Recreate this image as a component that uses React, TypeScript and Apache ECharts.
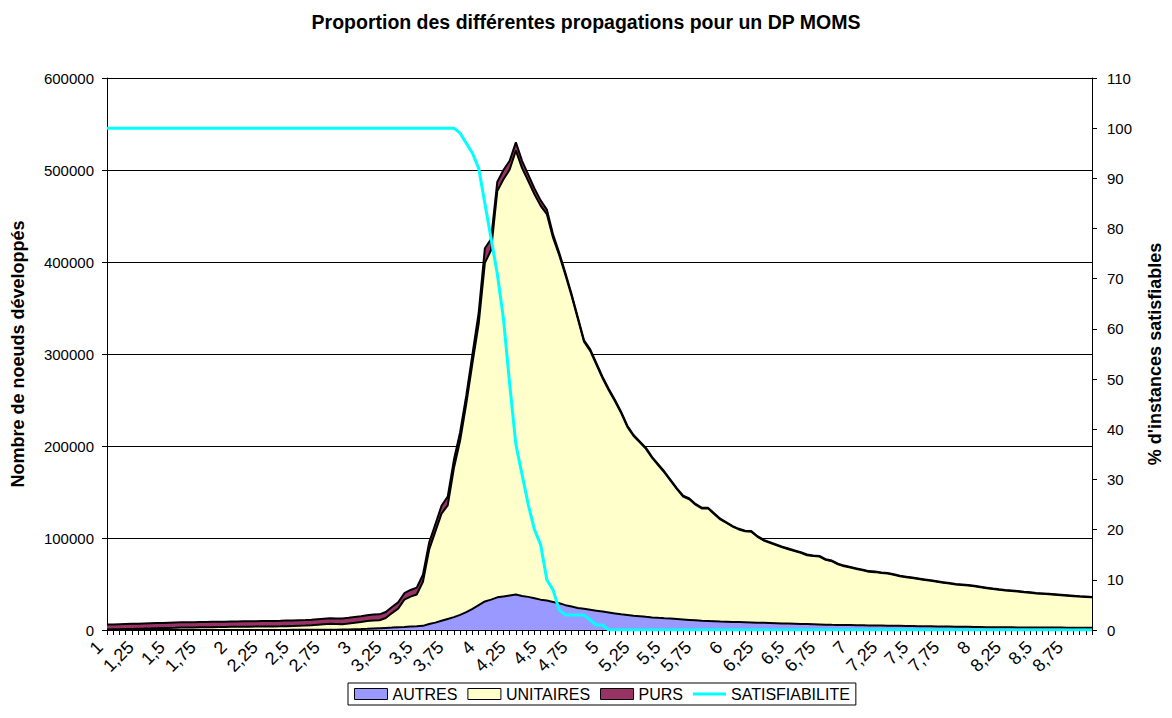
import React, { useEffect, useRef } from "react";
import * as echarts from "echarts";

const CATEGORIES: number[] = [
  1, 1.05, 1.1, 1.15, 1.2, 1.25, 1.3, 1.35, 1.4, 1.45, 1.5, 1.55, 1.6, 1.65, 1.7, 1.75, 1.8, 1.85, 1.9, 1.95,
  2, 2.05, 2.1, 2.15, 2.2, 2.25, 2.3, 2.35, 2.4, 2.45, 2.5, 2.55, 2.6, 2.65, 2.7, 2.75, 2.8, 2.85, 2.9, 2.95,
  3, 3.05, 3.1, 3.15, 3.2, 3.25, 3.3, 3.35, 3.4, 3.45, 3.5, 3.55, 3.6, 3.65, 3.7, 3.75, 3.8, 3.85, 3.9, 3.95,
  4, 4.05, 4.1, 4.15, 4.2, 4.25, 4.3, 4.35, 4.4, 4.45, 4.5, 4.55, 4.6, 4.65, 4.7, 4.75, 4.8, 4.85, 4.9, 4.95,
  5, 5.05, 5.1, 5.15, 5.2, 5.25, 5.3, 5.35, 5.4, 5.45, 5.5, 5.55, 5.6, 5.65, 5.7, 5.75, 5.8, 5.85, 5.9, 5.95,
  6, 6.05, 6.1, 6.15, 6.2, 6.25, 6.3, 6.35, 6.4, 6.45, 6.5, 6.55, 6.6, 6.65, 6.7, 6.75, 6.8, 6.85, 6.9, 6.95,
  7, 7.05, 7.1, 7.15, 7.2, 7.25, 7.3, 7.35, 7.4, 7.45, 7.5, 7.55, 7.6, 7.65, 7.7, 7.75, 7.8, 7.85, 7.9, 7.95,
  8, 8.05, 8.1, 8.15, 8.2, 8.25, 8.3, 8.35, 8.4, 8.45, 8.5, 8.55, 8.6, 8.65, 8.7, 8.75, 8.8, 8.85, 8.9, 8.95,
];

const AUTRES: number[] = [
  0, 0, 0, 0, 0, 0, 0, 0, 0, 0,
  0, 0, 0, 0, 0, 0, 0, 0, 0, 0,
  0, 0, 0, 0, 0, 100, 100, 100, 100, 100,
  200, 200, 200, 300, 300, 300, 400, 400, 500, 600,
  800, 1000, 1300, 1700, 2000, 2300, 2600, 3000, 3300, 3700,
  4000, 4500, 6500, 8000, 10000, 12000, 14000, 16500, 19500, 23000,
  27000, 31000, 33000, 35500, 36500, 37500, 38500, 37000, 36000, 34500,
  33000, 32000, 30500, 29000, 27000, 25500, 24000, 23000, 22000, 21000,
  20000, 19000, 18000, 17000, 16300, 15600, 15000, 14300, 13700, 13200,
  12800, 12500, 12000, 11500, 11000, 10500, 10000, 9800, 9500, 9200,
  9000, 8800, 8600, 8400, 8200, 8000, 7800, 7600, 7400, 7200,
  7000, 6800, 6600, 6400, 6200, 6000, 5800, 5600, 5500, 5400,
  5300, 5200, 5100, 5000, 4900, 4800, 4700, 4600, 4500, 4400,
  4300, 4200, 4100, 4000, 3900, 3800, 3700, 3600, 3500, 3400,
  3300, 3200, 3100, 3000, 3000, 2900, 2900, 2800, 2800, 2700,
  2700, 2700, 2600, 2600, 2600, 2500, 2500, 2500, 2500, 2500,
];

const UNITAIRES: number[] = [
  600, 700, 800, 1000, 1200, 1400, 1500, 1700, 1900, 2100,
  2300, 2400, 2600, 2700, 2800, 2900, 3000, 3100, 3200, 3300,
  3400, 3500, 3500, 3600, 3700, 3700, 3800, 3800, 3900, 4100,
  4200, 4400, 4600, 4800, 5400, 5900, 6300, 6100, 5800, 6500,
  7200, 7700, 8400, 8700, 8600, 10700, 15800, 20200, 29700, 32600,
  34600, 47900, 80700, 99000, 116500, 123500, 162000, 189500, 226500, 267500,
  306000, 368000, 380000, 441500, 453500, 463000, 482500, 465000, 452000, 439000,
  428000, 420000, 396000, 378500, 358800, 337500, 314200, 290300, 281400, 267500,
  253600, 241600, 230700, 218700, 204500, 195200, 188900, 182600, 173300, 165800,
  158200, 149600, 141100, 133600, 131100, 125700, 122200, 122400, 116700, 111000,
  107300, 103500, 100700, 98900, 98600, 93300, 89500, 87200, 84900, 82600,
  80800, 79000, 77200, 74900, 74100, 73800, 70500, 69200, 65800, 63900,
  62600, 61200, 59800, 58400, 58000, 57100, 56700, 55300, 53900, 53000,
  52100, 51200, 50300, 49400, 48500, 47600, 46700, 45800, 45400, 45000,
  44200, 43300, 42400, 41500, 40700, 40100, 39600, 39000, 38200, 37800,
  37100, 36600, 36200, 35700, 35200, 34800, 34300, 33800, 33400, 33000,
];

const PURS: number[] = [
  5400, 5400, 5500, 5500, 5500, 5500, 5600, 5600, 5600, 5600,
  5600, 5700, 5700, 5700, 5700, 5800, 5800, 5800, 5800, 5800,
  5800, 5800, 5900, 5900, 5900, 5900, 5900, 6000, 6000, 6000,
  6000, 6000, 6000, 6100, 6100, 6100, 6100, 6100, 6200, 6200,
  6200, 6300, 6300, 6400, 6400, 6500, 6600, 6800, 7000, 7200,
  7400, 7600, 7800, 8000, 8500, 9500, 9000, 9000, 9000, 9500,
  12000, 16000, 12000, 10000, 10000, 9500, 9000, 8000, 7000, 6500,
  6000, 5000, 3500, 2500, 2200, 2000, 1800, 1700, 1600, 1500,
  1400, 1400, 1300, 1300, 1200, 1200, 1100, 1100, 1000, 1000,
  1000, 900, 900, 900, 900, 800, 800, 800, 800, 800,
  700, 700, 700, 700, 700, 700, 700, 700, 700, 700,
  700, 700, 700, 700, 700, 700, 700, 700, 700, 700,
  600, 600, 600, 600, 600, 600, 600, 600, 600, 600,
  600, 600, 600, 600, 600, 600, 600, 600, 600, 600,
  500, 500, 500, 500, 500, 500, 500, 500, 500, 500,
  500, 500, 500, 500, 500, 500, 500, 500, 500, 500,
];

const SATISFIABILITE: number[] = [
  100, 100, 100, 100, 100, 100, 100, 100, 100, 100,
  100, 100, 100, 100, 100, 100, 100, 100, 100, 100,
  100, 100, 100, 100, 100, 100, 100, 100, 100, 100,
  100, 100, 100, 100, 100, 100, 100, 100, 100, 100,
  100, 100, 100, 100, 100, 100, 100, 100, 100, 100,
  100, 100, 100, 100, 100, 100, 100, 99, 97, 95,
  92, 85, 78, 71, 62, 49, 37, 31, 25, 20,
  17, 10, 8, 4, 3, 3, 3, 3, 2, 1,
  1, 0, 0, 0, 0, 0, 0, 0, 0, 0,
  0, 0, 0, 0, 0, 0, 0, 0, 0, 0,
  0, 0, 0, 0, 0, 0, 0, 0, 0, 0,
  0, 0, 0, 0, 0, 0, 0, 0, 0, 0,
  0, 0, 0, 0, 0, 0, 0, 0, 0, 0,
  0, 0, 0, 0, 0, 0, 0, 0, 0, 0,
  0, 0, 0, 0, 0, 0, 0, 0, 0, 0,
  0, 0, 0, 0, 0, 0, 0, 0, 0, 0,
];

const FONT = "Arial, 'Liberation Sans', sans-serif";

export default function App() {
  const ref = useRef<HTMLDivElement>(null);
  useEffect(() => {
    if (!ref.current) return;
    const chart = echarts.init(ref.current, undefined, { renderer: "svg" });
    const areaSeries = (name: string, data: number[], color: string) => ({
      name,
      type: "line",
      stack: "total",
      data,
      yAxisIndex: 0,
      symbol: "none",
      showSymbol: false,
      itemStyle: { color },
      lineStyle: { color: "#000", width: 2 },
      areaStyle: { color, opacity: 1 },
    });
    chart.setOption({
      animation: false,
      backgroundColor: "#fff",
      textStyle: { fontFamily: FONT },
      title: {
        text: "Proportion des différentes propagations pour un DP MOMS",
        left: "center",
        top: 7,
        textStyle: { fontFamily: FONT, fontSize: 19.5, fontWeight: "bold", color: "#000" },
      },
      grid: { left: 107, right: 70, top: 78, bottom: 88, containLabel: false },
      legend: {
        bottom: 13,
        left: 348,
        borderColor: "#000",
        borderWidth: 1,
        padding: [3, 6, 3, 6],
        itemGap: 10,
        itemWidth: 33,
        itemHeight: 11,
        symbolKeepAspect: true,
        textStyle: { fontFamily: FONT, fontSize: 16, color: "#000" },
        data: [
          { name: "AUTRES", icon: "rect", itemStyle: { color: "#9999FF", borderColor: "#000", borderWidth: 1 } },
          { name: "UNITAIRES", icon: "rect", itemStyle: { color: "#FFFFCC", borderColor: "#000", borderWidth: 1 } },
          { name: "PURS", icon: "rect", itemStyle: { color: "#993366", borderColor: "#000", borderWidth: 1 } },
          {
            name: "SATISFIABILITE",
            icon: "path://M0,0L33,0L33,3L0,3Z",
            itemStyle: { color: "#00FFFF", borderWidth: 0 },
          },
        ],
      },
      xAxis: {
        type: "category",
        data: CATEGORIES,
        boundaryGap: false,
        axisLine: { show: true, lineStyle: { color: "#000", width: 1 } },
        axisTick: { show: true, interval: 0, length: 5, lineStyle: { color: "#000" } },
        axisLabel: {
          interval: 4,
          rotate: 45,
          margin: 7,
          padding: [0, 10, 0, 0],
          fontFamily: FONT,
          fontSize: 18,
          color: "#000",
          formatter: (v: string) => String(v).replace(".", ","),
        },
        splitLine: { show: false },
      },
      yAxis: [
        {
          type: "value",
          min: 0,
          max: 600000,
          interval: 100000,
          position: "left",
          name: "Nombre de noeuds développés",
          nameLocation: "middle",
          nameRotate: 90,
          nameGap: 80,
          nameTextStyle: { fontFamily: FONT, fontSize: 18, fontWeight: "bold", color: "#000" },
          axisLine: { show: true, lineStyle: { color: "#000", width: 1 } },
          axisTick: { show: true, length: 5, lineStyle: { color: "#000" } },
          axisLabel: {
            margin: 13,
            fontFamily: FONT,
            fontSize: 15,
            color: "#000",
            formatter: (v: number) => String(v),
          },
          splitLine: { show: true, lineStyle: { color: "#000", width: 1 } },
        },
        {
          type: "value",
          min: 0,
          max: 110,
          interval: 10,
          position: "right",
          name: "% d'instances satisfiables",
          nameLocation: "middle",
          nameRotate: 90,
          nameGap: 54,
          nameTextStyle: { fontFamily: FONT, fontSize: 18, fontWeight: "bold", color: "#000" },
          axisLine: { show: true, lineStyle: { color: "#000", width: 1 } },
          axisTick: { show: true, length: 5, lineStyle: { color: "#000" } },
          axisLabel: { margin: 15, fontFamily: FONT, fontSize: 15, color: "#000" },
          splitLine: { show: false },
        },
      ],
      series: [
        areaSeries("AUTRES", AUTRES, "#9999FF"),
        areaSeries("UNITAIRES", UNITAIRES, "#FFFFCC"),
        areaSeries("PURS", PURS, "#993366"),
        {
          name: "SATISFIABILITE",
          type: "line",
          yAxisIndex: 1,
          data: SATISFIABILITE,
          symbol: "none",
          showSymbol: false,
          itemStyle: { color: "#00FFFF" },
          lineStyle: { color: "#00FFFF", width: 3 },
          z: 5,
        },
      ],
    });
    return () => chart.dispose();
  }, []);
  return (
    <div
      ref={ref}
      style={{ position: "fixed", left: 0, top: 0, width: 1172, height: 718, background: "#fff" }}
    />
  );
}
